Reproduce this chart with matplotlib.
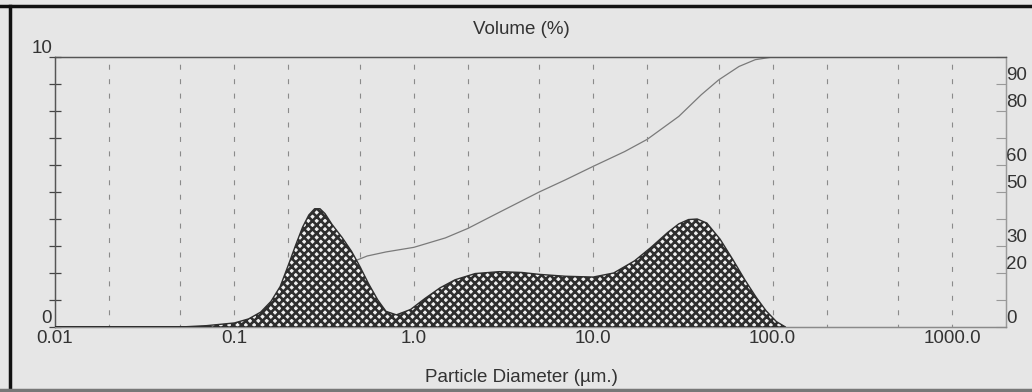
import matplotlib
matplotlib.use("Agg")
import matplotlib.pyplot as plt
from matplotlib.lines import Line2D
from matplotlib.ticker import NullLocator

plt.rcParams['font.family'] = ['Liberation Sans', 'DejaVu Sans']
plt.rcParams['hatch.linewidth'] = 1.9

# particle size distribution (volume %, left axis)
dist_size = [0.01, 0.05, 0.07, 0.1, 0.12, 0.14, 0.16, 0.18, 0.2, 0.22, 0.24, 0.26,
             0.28, 0.3, 0.32, 0.35, 0.4, 0.45, 0.5, 0.56, 0.63, 0.7, 0.8, 0.96, 1.15,
             1.4, 1.7, 2.2, 3.0, 4.0, 5.0, 7.0, 10.0, 13.0, 17.0, 21.0, 26.0, 30.0,
             34.0, 38.0, 43.0, 51.0, 60.0, 70.0, 81.0, 92.0, 105.0, 118.0]
dist_vol = [0.0, 0.0, 0.05, 0.15, 0.3, 0.55, 0.95, 1.5, 2.3, 3.05, 3.7, 4.15,
            4.38, 4.38, 4.2, 3.8, 3.3, 2.8, 2.25, 1.6, 1.0, 0.58, 0.45, 0.65, 1.05,
            1.45, 1.75, 1.98, 2.05, 2.02, 1.95, 1.88, 1.85, 2.0, 2.45, 2.95, 3.5, 3.82,
            3.98, 4.0, 3.85, 3.25, 2.5, 1.75, 1.1, 0.6, 0.2, 0.0]

# cumulative volume (%, right axis)
cum_size = [0.01, 0.07, 0.1, 0.15, 0.2, 0.25, 0.3, 0.4, 0.47, 0.55, 0.7, 1.0, 1.5,
            2.0, 3.0, 5.0, 7.0, 10.0, 15.0, 20.0, 30.0, 40.0, 50.0, 65.0, 80.0,
            100.0, 200.0, 2000.0]
cum_vol = [0.0, 0.1, 0.5, 2.0, 6.0, 11.0, 16.0, 21.5, 24.5, 26.3, 27.8, 29.5, 33.0,
           36.5, 42.5, 50.0, 54.5, 59.5, 65.0, 69.5, 78.0, 86.0, 91.5, 96.5, 99.0,
           100.0, 100.0, 100.0]

grid_pos = [0.02, 0.05, 0.1, 0.2, 0.5, 1, 2, 5, 10, 20, 50, 100, 200, 500, 1000]
x_ticks = [0.01, 0.1, 1, 10, 100, 1000]
x_labels = ['0.01', '0.1', '1.0', '10.0', '100.0', '1000.0']
right_ticks = [0, 10, 20, 30, 40, 50, 60, 70, 80, 90, 100]
right_labels = ['0', '', '20', '30', '', '50', '60', '', '80', '90', '']

bg = '#e6e6e6'
txt = '#333333'

fig = plt.figure(figsize=(10.32, 3.92), dpi=100, facecolor=bg)
ax = fig.add_axes([55 / 1032, 1 - 327 / 392, (1006 - 55) / 1032, (327 - 57) / 392])
ax.set_facecolor(bg)
ax.set_xscale('log')
ax.set_xlim(0.01, 2000)
ax.set_ylim(0, 10)

for g in grid_pos:
    ax.axvline(g, color='#8a8a8a', lw=0.8, linestyle=(2, (4.5, 8.5)), zorder=1)

ax2 = ax.twinx()
ax2.set_ylim(0, 100)
ax2.plot(cum_size, cum_vol, color='#7a7a7a', lw=0.9, zorder=2)
ax2.set_zorder(1)
ax.set_zorder(2)
ax.patch.set_visible(False)

ax.fill_between(dist_size, dist_vol, 0, facecolor='#f0f0f0', edgecolor='#2e2e2e',
                hatch='xxxx', lw=1.0, zorder=3)

# left axis
ax.set_yticks(range(0, 11))
ax.set_yticklabels(['0'] + [''] * 9 + ['10'])
ax.tick_params(axis='y', direction='inout', length=8, width=0.9, color='#444444',
               labelsize=13.5, labelcolor=txt, pad=-2)
for lab in ax.get_yticklabels():
    lab.set_va('bottom')

ax.xaxis.set_minor_locator(NullLocator())
ax.set_xticks(x_ticks)
ax.set_xticklabels(x_labels)
ax.tick_params(axis='x', length=0, labelsize=13.5, labelcolor=txt, pad=2)

# right axis
ax2.set_yticks(right_ticks)
ax2.set_yticklabels(right_labels)
ax2.tick_params(axis='y', direction='in', length=7, width=0.8, color='#999999',
                labelsize=13.5, labelcolor=txt, pad=0)
for lab in ax2.get_yticklabels():
    lab.set_va('bottom')

for a in (ax, ax2):
    a.spines['left'].set_color('#555555')
    a.spines['top'].set_color('#555555')
    a.spines['right'].set_color('#9a9a9a')
    a.spines['bottom'].set_color('#8a8a8a')
    for s in a.spines.values():
        s.set_linewidth(0.9)

fig.text(521 / 1032, 1 - 30 / 392, 'Volume (%)', ha='center', va='center',
         fontsize=13.5, color=txt)
fig.text(521 / 1032, 1 - 377 / 392, 'Particle Diameter (µm.)', ha='center',
         va='center', fontsize=13.5, color=txt)

# photo frame
fig.add_artist(Line2D([0, 1], [1 - 6 / 392] * 2, color='#111111', lw=2.5,
                      transform=fig.transFigure))
fig.add_artist(Line2D([10 / 1032] * 2, [0, 1 - 6 / 392], color='#111111', lw=2.5,
                      transform=fig.transFigure))
fig.add_artist(Line2D([0, 1], [2 / 392] * 2, color='#777777', lw=2.5,
                      transform=fig.transFigure))

fig.savefig('out.png', dpi=100, facecolor=bg)
